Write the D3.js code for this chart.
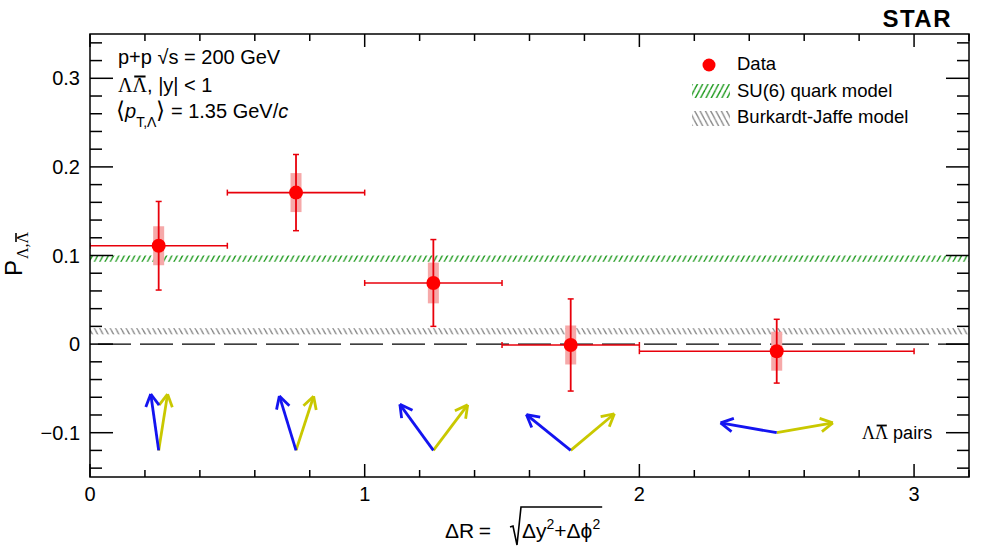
<!DOCTYPE html>
<html>
<head>
<meta charset="utf-8">
<script src="https://cdn.jsdelivr.net/npm/d3@7"></script>
<style>
  html, body { margin: 0; padding: 0; background: #fff; }
  svg { display: block; }
  text { font-family: "Liberation Sans", Arial, Helvetica, sans-serif; fill: #000; }
</style>
</head>
<body>
<svg id="chart" width="982" height="550"></svg>
<script>
// ---------------- data ----------------
const binLow   = [0.0, 0.5, 1.0, 1.5, 2.0];
const binHigh  = [0.5, 1.0, 1.5, 2.0, 3.0];
const xCenter  = [0.25, 0.75, 1.25, 1.75, 2.5];
const polarization = [0.111, 0.171, 0.069, -0.001, -0.008];
const statErr  = [0.050, 0.043, 0.049, 0.052, 0.036];
const sysErr   = [0.022, 0.022, 0.023, 0.022, 0.022];
const su6Band  = [0.093, 0.100];
const bjBand   = [0.011, 0.018];
const xTickValues = [0, 1, 2, 3];
const xTickLabels = ["0", "1", "2", "3"];
const yTickValues = [-0.1, 0, 0.1, 0.2, 0.3];
const yTickLabels = ["\u22120.1", "0", "0.1", "0.2", "0.3"];
// illustrative Lambda / anti-Lambda momentum pairs (origin in data units, opening angle in degrees from vertical)
const pairOriginX = [0.25, 0.75, 1.25, 1.75, 2.5];
const pairOriginY = [-0.12, -0.12, -0.12, -0.12, -0.10];
const lambdaAngle = [-8, -17, -36, -51, -80];
const antiLambdaAngle = [9, 18, 37, 50, 80];

// ---------------- layout ----------------
const W = 982, H = 550;
const M = { left: 90, right: 13, top: 34, bottom: 73 };
const svg = d3.select("#chart");
const x = d3.scaleLinear().domain([0, 3.2]).range([M.left, W - M.right]);
const y = d3.scaleLinear().domain([-0.15, 0.35]).range([H - M.bottom, M.top]);
const X0 = x.range()[0], X1 = x.range()[1], Y0 = y.range()[0], Y1 = y.range()[1];

const defs = svg.append("defs");
function hatch(id, color, forward) {
  const p = defs.append("pattern").attr("id", id).attr("patternUnits", "userSpaceOnUse")
    .attr("width", 5.3).attr("height", 10);
  [-5.3, 0, 5.3].forEach(o => {
    p.append("line")
      .attr("x1", o).attr("y1", forward ? 10 : 0)
      .attr("x2", o + 5.3).attr("y2", forward ? 0 : 10)
      .attr("stroke", color).attr("stroke-width", 1.4);
  });
}
hatch("hatchGreen", "#1e9a1e", true);
hatch("hatchGray", "#8c8c8c", false);
defs.append("clipPath").attr("id", "plotClip").append("rect")
  .attr("x", X0).attr("y", Y1).attr("width", X1 - X0).attr("height", Y0 - Y1);

const plot = svg.append("g").attr("clip-path", "url(#plotClip)");

// model bands
plot.append("rect").attr("x", X0).attr("width", X1 - X0)
  .attr("y", y(su6Band[1])).attr("height", y(su6Band[0]) - y(su6Band[1]))
  .attr("fill", "url(#hatchGreen)");
plot.append("rect").attr("x", X0).attr("width", X1 - X0)
  .attr("y", y(bjBand[1])).attr("height", y(bjBand[0]) - y(bjBand[1]))
  .attr("fill", "url(#hatchGray)");

// zero dashed line
plot.append("line").attr("x1", X0).attr("x2", X1).attr("y1", y(0)).attr("y2", y(0))
  .attr("stroke", "#000").attr("stroke-width", 1.4).attr("stroke-dasharray", "33,9")
  .attr("stroke-dashoffset", -8);

// data
const pts = xCenter.map((xc, i) => ({ xc, lo: binLow[i], hi: binHigh[i], v: polarization[i], s: statErr[i], sy: sysErr[i] }));
const red = "#e8000b";
const g = plot.append("g");
g.selectAll("rect.sys").data(pts).join("rect").attr("class", "sys")
  .attr("x", d => x(d.xc) - 5.5).attr("width", 11)
  .attr("y", d => y(d.v + d.sy)).attr("height", d => y(d.v - d.sy) - y(d.v + d.sy))
  .attr("fill", "#f6a9a9");
g.selectAll("line.h").data(pts).join("line").attr("class", "h")
  .attr("x1", d => x(d.lo)).attr("x2", d => x(d.hi)).attr("y1", d => y(d.v)).attr("y2", d => y(d.v))
  .attr("stroke", red).attr("stroke-width", 1.6);
g.selectAll("line.v").data(pts).join("line").attr("class", "v")
  .attr("x1", d => x(d.xc)).attr("x2", d => x(d.xc)).attr("y1", d => y(d.v + d.s)).attr("y2", d => y(d.v - d.s))
  .attr("stroke", red).attr("stroke-width", 1.8);
pts.forEach(d => {
  [[x(d.lo), y(d.v)], [x(d.hi), y(d.v)]].forEach(([px, py]) =>
    g.append("line").attr("x1", px).attr("x2", px).attr("y1", py - 3).attr("y2", py + 3).attr("stroke", red).attr("stroke-width", 1.5));
  [y(d.v + d.s), y(d.v - d.s)].forEach(py =>
    g.append("line").attr("x1", x(d.xc) - 3).attr("x2", x(d.xc) + 3).attr("y1", py).attr("y2", py).attr("stroke", red).attr("stroke-width", 1.5));
});
g.selectAll("circle").data(pts).join("circle")
  .attr("cx", d => x(d.xc)).attr("cy", d => y(d.v)).attr("r", 7).attr("fill", "#ff0000");

// arrows
const arrowLen = 57;
function arrow(ox, oy, angDeg, color) {
  const a = angDeg * Math.PI / 180;
  const tx = ox + arrowLen * Math.sin(a), ty = oy - arrowLen * Math.cos(a);
  const ag = plot.append("g").attr("stroke", color).attr("stroke-width", 2.8).attr("fill", "none")
    .attr("stroke-linecap", "butt");
  ag.append("line").attr("x1", ox).attr("y1", oy).attr("x2", tx).attr("y2", ty);
  const back = Math.atan2(oy - ty, ox - tx);
  [0.5, -0.5].forEach(da => {
    ag.append("line").attr("x1", tx).attr("y1", ty)
      .attr("x2", tx + 14 * Math.cos(back + da)).attr("y2", ty + 14 * Math.sin(back + da));
  });
}
pairOriginX.forEach((px, i) => {
  const ox = x(px), oy = y(pairOriginY[i]);
  arrow(ox, oy, antiLambdaAngle[i], "#c9c800");
  arrow(ox, oy, lambdaAngle[i], "#1414f0");
});

// ---------------- axes (ROOT style, ticks inward on all sides) ----------------
const ax = svg.append("g").attr("stroke", "#000").attr("stroke-width", 1.5);
ax.append("rect").attr("x", X0).attr("y", Y1).attr("width", X1 - X0).attr("height", Y0 - Y1).attr("fill", "none");
const xMinor = d3.range(0, 3.2001, 0.2).map(v => +v.toFixed(2));
xMinor.forEach(v => {
  const major = Math.abs(v - Math.round(v)) < 1e-6;
  const L = major ? 13 : 7;
  ax.append("line").attr("x1", x(v)).attr("x2", x(v)).attr("y1", Y0).attr("y2", Y0 - L);
  ax.append("line").attr("x1", x(v)).attr("x2", x(v)).attr("y1", Y1).attr("y2", Y1 + L);
});
const yMinor = d3.range(-0.14, 0.3501, 0.02).map(v => +v.toFixed(2));
yMinor.forEach(v => {
  const major = Math.abs(v * 10 - Math.round(v * 10)) < 1e-6;
  const L = major ? 23 : 12;
  ax.append("line").attr("x1", X0).attr("x2", X0 + L).attr("y1", y(v)).attr("y2", y(v));
  ax.append("line").attr("x1", X1).attr("x2", X1 - L).attr("y1", y(v)).attr("y2", y(v));
});
svg.append("g").selectAll("text").data(xTickValues).join("text")
  .attr("x", d => x(d)).attr("y", Y0 + 24).attr("text-anchor", "middle")
  .attr("font-size", 20).text((d, i) => xTickLabels[i]);
svg.append("g").selectAll("text").data(yTickValues).join("text")
  .attr("x", X0 - 10).attr("y", d => y(d) + 7).attr("text-anchor", "end")
  .attr("font-size", 20).text((d, i) => yTickLabels[i]);

// helper: bar over a character
function barOver(textSel, idx, size, parent, lift) {
  const e = textSel.node().getExtentOfChar(idx);
  (parent || svg).append("line")
    .attr("x1", e.x + e.width * 0.12).attr("x2", e.x + e.width * 0.9)
    .attr("y1", e.y + lift).attr("y2", e.y + lift)
    .attr("stroke", "#000").attr("stroke-width", Math.max(1.5, size * 0.1));
}
const serif = "'Liberation Serif', 'Times New Roman', serif";

// x axis title
svg.append("text").attr("x", 445).attr("y", 538).attr("font-size", 21).text("\u0394R");
svg.append("text").attr("x", 485).attr("y", 538).attr("font-size", 21).attr("text-anchor", "middle").text("=");
const rad0 = 510;
const inner = svg.append("text").attr("x", rad0 + 12).attr("y", 538).attr("font-size", 21);
inner.append("tspan").text("\u0394y");
inner.append("tspan").attr("font-size", 14).attr("dy", -9).text("2");
inner.append("tspan").attr("dy", 9).text("+\u0394\u03d5");
inner.append("tspan").attr("font-size", 14).attr("dy", -9).text("2");
const innerEnd = rad0 + 12 + inner.node().getComputedTextLength();
svg.append("path")
  .attr("d", `M${rad0},${527} L${rad0 + 3},${526} L${rad0 + 7},${545} L${rad0 + 11},${507} L${innerEnd + 2},${507}`)
  .attr("fill", "none").attr("stroke", "#000").attr("stroke-width", 1.6);

// y axis title (rotated)
const yg = svg.append("g").attr("transform", "translate(22,276) rotate(-90)");
const yt = yg.append("text").attr("x", 0).attr("y", 0).attr("font-size", 24);
yt.append("tspan").text("P");
yt.append("tspan").attr("font-size", 16).attr("dy", 6).attr("dx", 1).attr("font-family", serif).text("\u039b,\u039b");
barOver(yt, 3, 16, yg, 2);

// STAR label
svg.append("text").attr("x", 952).attr("y", 27).attr("text-anchor", "end")
  .attr("font-size", 24).attr("font-weight", "bold").attr("letter-spacing", 1.5).text("STAR");

// top-left info
const t1 = svg.append("text").attr("x", 118).attr("y", 64).attr("font-size", 20);
t1.append("tspan").text("p+p  ");
t1.append("tspan").text("\u221as = 200 GeV");
const t2 = svg.append("text").attr("x", 118).attr("y", 92).attr("font-size", 20);
t2.append("tspan").attr("font-family", serif).text("\u039b\u039b");
t2.append("tspan").text(", |y| < 1");
barOver(t2, 1, 20, svg, 2.5);
const t3 = svg.append("text").attr("x", 116).attr("y", 118).attr("font-size", 20);
t3.append("tspan").attr("font-family", serif).attr("font-size", 23).text("\u27e8");
t3.append("tspan").attr("font-style", "italic").text("p");
t3.append("tspan").attr("font-size", 14).attr("dy", 9).text("T,\u039b");
t3.append("tspan").attr("dy", -9).attr("font-family", serif).attr("font-size", 23).text("\u27e9");
t3.append("tspan").text(" = 1.35 GeV/");
t3.append("tspan").attr("font-style", "italic").text("c");

// legend
svg.append("circle").attr("cx", 709).attr("cy", 65).attr("r", 6.5).attr("fill", "#ff0000");
svg.append("text").attr("x", 737).attr("y", 70).attr("font-size", 18.5).text("Data");
svg.append("rect").attr("x", 692).attr("y", 84).attr("width", 38).attr("height", 14).attr("fill", "url(#hatchGreen)");
svg.append("text").attr("x", 737).attr("y", 97).attr("font-size", 18.5).text("SU(6) quark model");
svg.append("rect").attr("x", 692).attr("y", 111).attr("width", 38).attr("height", 15).attr("fill", "url(#hatchGray)");
svg.append("text").attr("x", 737).attr("y", 123).attr("font-size", 18.5).text("Burkardt-Jaffe model");

// pairs label
const pl = svg.append("text").attr("x", 862).attr("y", 439).attr("font-size", 18);
pl.append("tspan").attr("font-family", serif).text("\u039b\u039b");
pl.append("tspan").text(" pairs");
barOver(pl, 1, 18, svg, 2.5);
</script>
</body>
</html>
